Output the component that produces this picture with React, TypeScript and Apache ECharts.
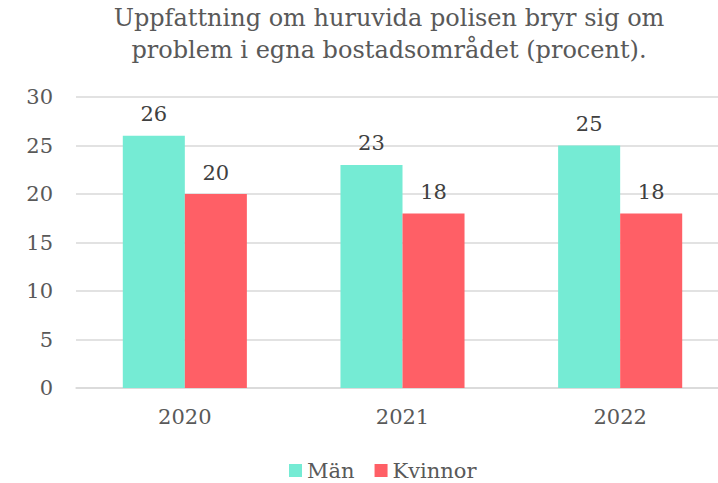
import React, { useEffect, useRef } from "react";
import * as echarts from "echarts";

const categories = ["2020", "2021", "2022"];
const manValues = [26, 23, 25];
const kvinnorValues = [20, 18, 18];
const seriesNames = ["Män", "Kvinnor"];
const titleText = "Uppfattning om huruvida polisen bryr sig om\nproblem i egna bostadsområdet (procent).";

const FONT = "'DejaVu Serif', serif";

export default function App() {
  const ref = useRef<HTMLDivElement>(null);
  useEffect(() => {
    const chart = echarts.init(ref.current!, null, { renderer: "svg" });
    chart.setOption({
      animation: false,
      backgroundColor: "#ffffff",
      title: {
        text: titleText,
        left: 384,
        top: -3,
        textAlign: "center",
        textStyle: {
          fontFamily: FONT,
          fontSize: 24,
          fontWeight: "normal",
          color: "#595959",
          lineHeight: 32,
        },
      },
      legend: {
        data: seriesNames,
        left: 284,
        top: 455,
        icon: "rect",
        itemWidth: 13,
        itemHeight: 13,
        itemGap: 20,
        textStyle: { fontFamily: FONT, fontSize: 21, color: "#595959" },
      },
      grid: { left: 76, width: 653, top: 97, bottom: 95, containLabel: false, outerBoundsMode: "none" },
      xAxis: {
        type: "category",
        data: categories,
        axisLine: { show: true, lineStyle: { color: "#D9D9D9", width: 1.5 } },
        axisTick: { show: false },
        axisLabel: { fontFamily: FONT, fontSize: 21, color: "#595959", margin: 18 },
      },
      yAxis: {
        type: "value",
        min: 0,
        max: 30,
        interval: 5,
        axisLine: { show: false },
        axisTick: { show: false },
        splitLine: { lineStyle: { color: "#D9D9D9", width: 1.5 } },
        axisLabel: { fontFamily: FONT, fontSize: 21, color: "#595959", margin: 23 },
      },
      series: [
        {
          name: seriesNames[0],
          type: "bar",
          data: manValues,
          barGap: "0%",
          barCategoryGap: "43%",
          itemStyle: { color: "#75EBD4" },
          label: { show: true, position: "top", distance: 11, fontFamily: FONT, fontSize: 21, color: "#404040" },
        },
        {
          name: seriesNames[1],
          type: "bar",
          data: kvinnorValues,
          barGap: "0%",
          barCategoryGap: "43%",
          itemStyle: { color: "#FF5F66" },
          label: { show: true, position: "top", distance: 11, fontFamily: FONT, fontSize: 21, color: "#404040" },
        },
      ],
    });
    return () => chart.dispose();
  }, []);
  return <div ref={ref} style={{ width: 718, height: 483, position: "absolute", left: 0, top: 0 }} />;
}
